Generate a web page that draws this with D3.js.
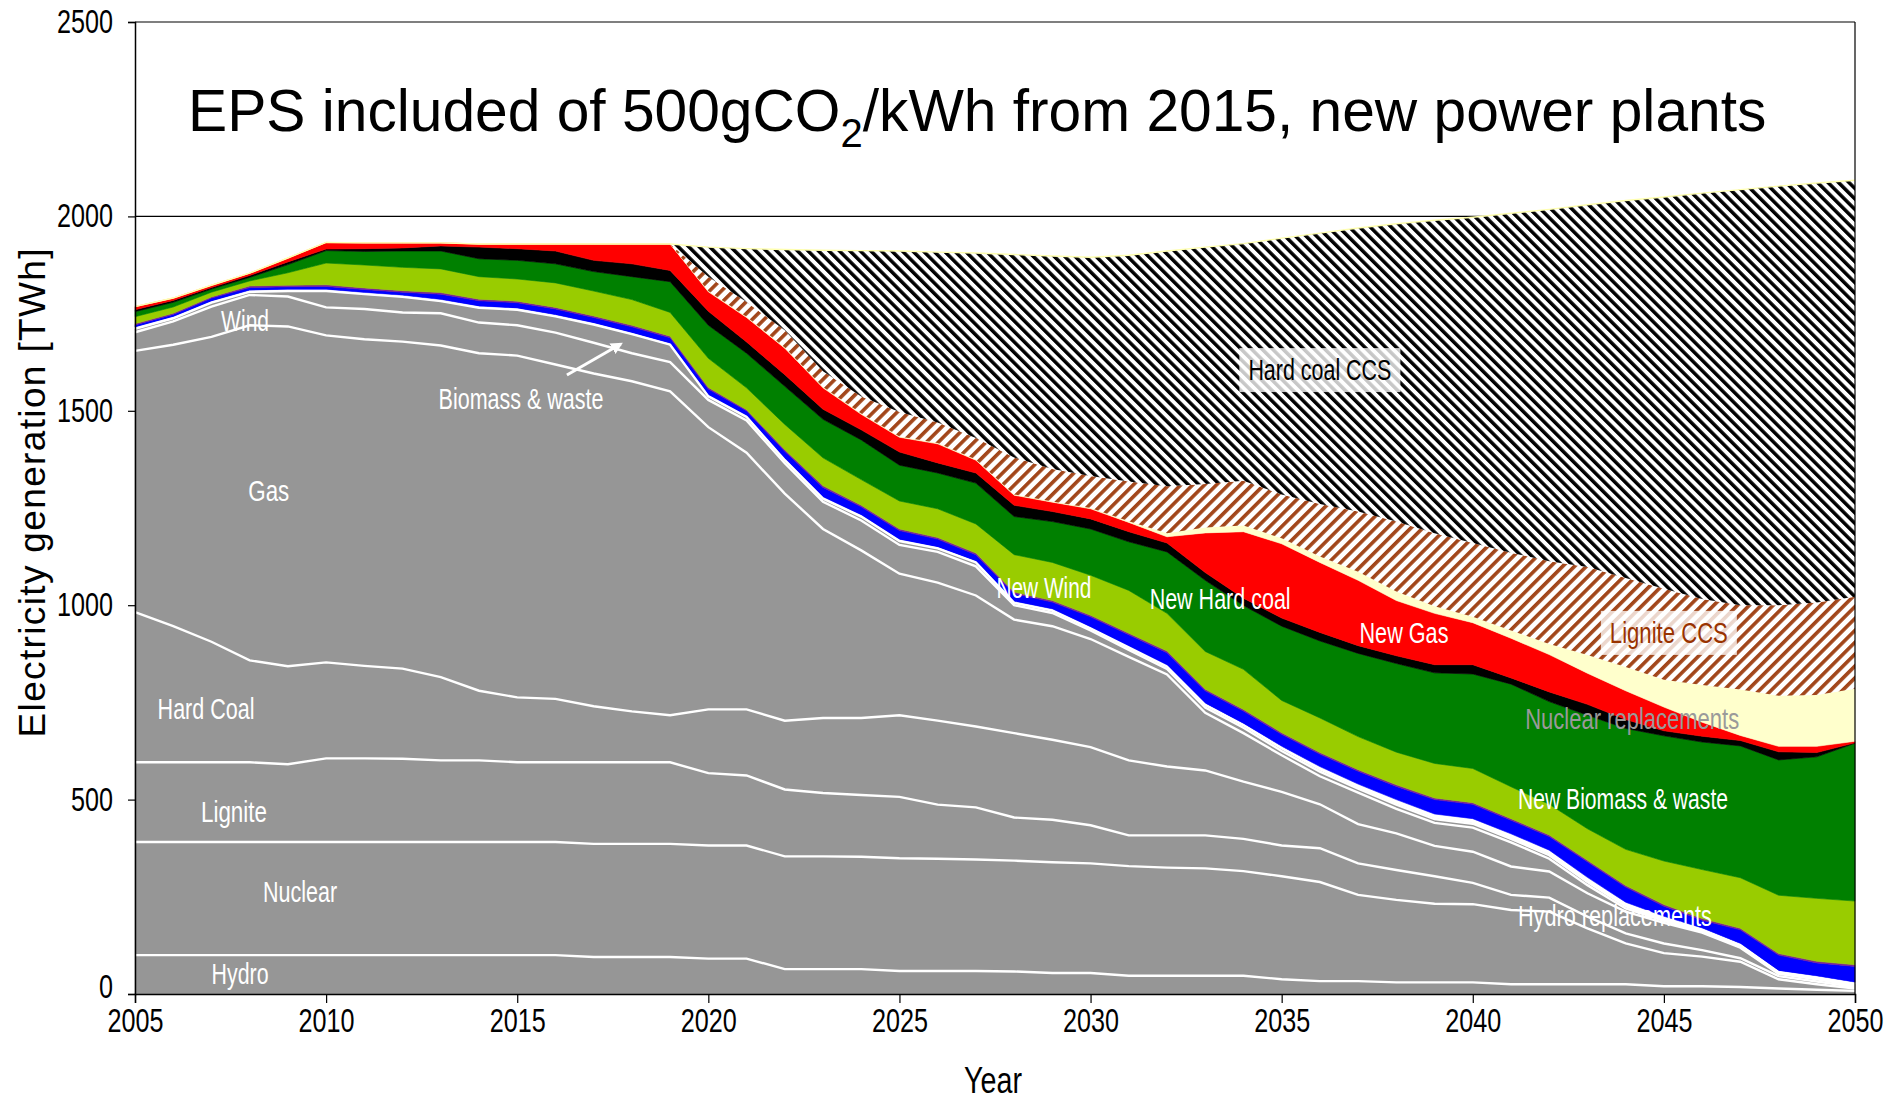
<!DOCTYPE html>
<html>
<head>
<meta charset="utf-8">
<script src="https://cdn.jsdelivr.net/npm/d3@7"></script>
<style>
    body { margin: 0; background: #fff; }
    svg { display: block; }
</style>
</head>
<body>
<svg id="canvas" width="1901" height="1103"></svg>
<script>
"use strict";

// Upper edge of each band, TWh (stacked, bottom to top)
var years = [2005, 2006, 2007, 2008, 2009, 2010, 2011, 2012, 2013, 2014, 2015, 2016, 2017, 2018, 2019,
    2020, 2021, 2022, 2023, 2024, 2025, 2026, 2027, 2028, 2029, 2030, 2031, 2032, 2033, 2034,
    2035, 2036, 2037, 2038, 2039, 2040, 2041, 2042, 2043, 2044, 2045, 2046, 2047, 2048, 2049, 2050];

var hydroTop = [100, 100, 100, 100, 100, 100, 100, 100, 100, 100, 100, 100, 95, 95, 95,
    91, 91, 64, 64, 64, 59, 59, 59, 58, 54, 54, 47, 47, 47, 47,
    38, 33, 33, 30, 30, 30, 25, 25, 25, 25, 20, 20, 18, 14, 11, 8];
var nuclearTop = [391, 391, 391, 391, 391, 391, 391, 391, 391, 391, 391, 391, 386, 386, 386,
    382, 382, 354, 354, 353, 349, 348, 346, 343, 339, 336, 329, 325, 323, 316,
    303, 288, 255, 242, 232, 231, 216, 212, 169, 130, 105, 96, 83, 38, 25, 14];
var ligniteTop = [596, 596, 596, 596, 591, 606, 606, 605, 601, 601, 596, 596, 596, 596, 596,
    568, 562, 526, 517, 512, 507, 487, 480, 454, 448, 434, 408, 408, 408, 399,
    382, 375, 336, 319, 303, 286, 255, 248, 199, 156, 130, 113, 92, 46, 32, 18];
var hardCoalTop = [982, 946, 906, 858, 843, 853, 844, 837, 815, 780, 763, 759, 740, 727, 717,
    732, 732, 703, 710, 710, 717, 703, 688, 671, 654, 635, 601, 585, 575, 546,
    520, 488, 437, 413, 381, 366, 328, 315, 259, 212, 183, 158, 119, 52, 38, 22];
var gasTop = [1654, 1670, 1690, 1720, 1717, 1694, 1684, 1678, 1668, 1648, 1642, 1619, 1596, 1576, 1550,
    1458, 1392, 1287, 1196, 1141, 1081, 1058, 1025, 963, 946, 913, 867, 822, 723, 671,
    614, 560, 518, 476, 440, 428, 390, 348, 280, 220, 188, 160, 121, 54, 40, 24];
var biomassTop = [1702, 1730, 1768, 1798, 1794, 1766, 1762, 1753, 1751, 1727, 1720, 1701, 1675, 1648, 1625,
    1528, 1475, 1365, 1266, 1218, 1155, 1137, 1100, 1000, 980, 935, 885, 836, 737, 685,
    625, 572, 528, 487, 450, 438, 399, 357, 288, 226, 191, 162, 123, 55, 41, 25];
var windTop = [1711, 1738, 1778, 1806, 1808, 1808, 1800, 1793, 1782, 1765, 1760, 1743, 1722, 1697, 1670,
    1537, 1484, 1373, 1274, 1228, 1165, 1146, 1110, 1006, 986, 940, 891, 842, 743, 691,
    632, 578, 533, 492, 455, 443, 404, 362, 292, 230, 194, 164, 125, 56, 42, 26];
var hydroReplTop = [1715, 1742, 1782, 1810, 1812, 1812, 1804, 1797, 1786, 1769, 1764, 1747, 1726, 1701, 1674,
    1541, 1488, 1377, 1278, 1232, 1169, 1150, 1114, 1010, 990, 944, 895, 846, 748, 696,
    637, 585, 540, 500, 463, 451, 412, 370, 300, 236, 200, 170, 130, 60, 46, 30];
var newWindTop = [1721, 1748, 1790, 1817, 1819, 1820, 1812, 1805, 1800, 1783, 1778, 1762, 1740, 1716, 1688,
    1556, 1500, 1396, 1303, 1253, 1192, 1170, 1130, 1030, 1008, 970, 924, 878, 780, 728,
    668, 617, 573, 534, 500, 488, 447, 405, 340, 275, 226, 190, 165, 100, 80, 71];
var newOtherTop = [1724, 1751, 1793, 1821, 1823, 1824, 1816, 1809, 1804, 1787, 1782, 1766, 1744, 1720, 1692,
    1560, 1503, 1400, 1307, 1257, 1196, 1174, 1134, 1034, 1012, 974, 928, 882, 784, 732,
    672, 621, 577, 538, 504, 492, 451, 409, 344, 279, 230, 194, 169, 104, 84, 75];
var newBiomassTop = [1742, 1767, 1805, 1834, 1855, 1880, 1875, 1869, 1865, 1845, 1839, 1829, 1808, 1786, 1753,
    1635, 1559, 1465, 1379, 1323, 1268, 1248, 1209, 1130, 1110, 1077, 1038, 979, 881, 835,
    755, 710, 662, 622, 593, 580, 533, 488, 425, 372, 342, 320, 299, 254, 246, 239];
var newHardCoalTop = [1755, 1779, 1813, 1843, 1876, 1912, 1910, 1911, 1911, 1891, 1887, 1878, 1858, 1845, 1832,
    1720, 1648, 1563, 1478, 1425, 1360, 1340, 1314, 1228, 1215, 1196, 1163, 1137, 1064, 999,
    946, 908, 876, 850, 826, 823, 797, 752, 717, 683, 664, 648, 638, 602, 610, 645];
var newLigniteTop = [1760, 1784, 1817, 1848, 1883, 1916, 1917, 1919, 1924, 1921, 1917, 1911, 1887, 1878, 1861,
    1756, 1677, 1593, 1504, 1451, 1394, 1366, 1340, 1257, 1241, 1222, 1189, 1160, 1084, 1018,
    967, 930, 896, 870, 847, 847, 813, 777, 745, 706, 677, 663, 652, 623, 621, 646];
var newGasTop = [1768, 1790, 1823, 1854, 1893, 1933, 1932, 1932, 1932, 1929, 1929, 1929, 1929, 1929, 1929,
    1806, 1740, 1661, 1559, 1491, 1432, 1415, 1373, 1283, 1265, 1248, 1213, 1176, 1186, 1189,
    1158, 1110, 1064, 1012, 979, 955, 915, 873, 825, 780, 738, 699, 665, 637, 637, 650];
var nuclearReplTop = [1768, 1790, 1823, 1854, 1893, 1933, 1932, 1932, 1932, 1929, 1929, 1929, 1929, 1929, 1929,
    1808, 1742, 1663, 1561, 1493, 1434, 1417, 1375, 1285, 1267, 1250, 1216, 1185, 1200, 1205,
    1172, 1125, 1086, 1035, 997, 970, 935, 900, 872, 841, 808, 795, 783, 767, 769, 785];
var ligniteCcsTop = [1768, 1790, 1823, 1854, 1893, 1933, 1932, 1932, 1932, 1929, 1929, 1929, 1929, 1929, 1929,
    1845, 1780, 1707, 1602, 1537, 1497, 1470, 1430, 1380, 1350, 1332, 1318, 1306, 1312, 1320,
    1285, 1260, 1241, 1215, 1185, 1160, 1135, 1113, 1098, 1070, 1042, 1016, 1000, 1000, 1007, 1022];
var hardCoalCcsTop = [1768, 1790, 1823, 1854, 1893, 1933, 1932, 1932, 1932, 1929, 1929, 1929, 1929, 1929, 1929,
    1921, 1917, 1915, 1913, 1912, 1911, 1908, 1906, 1902, 1898, 1895, 1900, 1911, 1921, 1930,
    1944, 1957, 1970, 1981, 1990, 1998, 2008, 2018, 2030, 2041, 2050, 2060, 2069, 2078, 2086, 2093];

var yTicks = [0, 500, 1000, 1500, 2000, 2500];
var xTicks = [2005, 2010, 2015, 2020, 2025, 2030, 2035, 2040, 2045, 2050];

var NARROW = "'Liberation Sans Narrow','Arial Narrow','Liberation Sans',Arial,sans-serif";
var REGULAR = "'Liberation Sans',Arial,sans-serif";
var GREY = "#969696";

var svg = d3.select("#canvas");
var x = d3.scaleLinear().domain([2005, 2050]).range([135, 1855]);
var y = d3.scaleLinear().domain([0, 2500]).range([994, 22]);

// Hatch patterns for the CCS bands
var defs = svg.append("defs");
function hatch(id, size, stripe, color, angle) {
    var p = defs.append("pattern")
        .attr("id", id)
        .attr("patternUnits", "userSpaceOnUse")
        .attr("width", size)
        .attr("height", size)
        .attr("patternTransform", "rotate(" + angle + ")");
    p.append("rect").attr("width", size).attr("height", size).attr("fill", "#fff");
    p.append("rect").attr("width", stripe).attr("height", size).attr("fill", color);
}
hatch("hatchCoal", 7.4, 3.5, "#000", -45);
hatch("hatchLignite", 8.4, 3.6, "#a2461a", 45);

// Gridline at 2000
svg.append("line")
    .attr("x1", x(2005)).attr("x2", x(2050))
    .attr("y1", y(2000)).attr("y2", y(2000))
    .attr("stroke", "#000").attr("stroke-width", 1.2);

var layers = [
    { name: "Hydro", top: hydroTop, fill: GREY, grey: true },
    { name: "Nuclear", top: nuclearTop, fill: GREY, grey: true },
    { name: "Lignite", top: ligniteTop, fill: GREY, grey: true },
    { name: "Hard Coal", top: hardCoalTop, fill: GREY, grey: true },
    { name: "Gas", top: gasTop, fill: GREY, grey: true },
    { name: "Biomass & waste", top: biomassTop, fill: GREY, grey: true },
    { name: "Wind", top: windTop, fill: GREY, grey: true },
    { name: "Hydro replacements", top: hydroReplTop, fill: "#ffffff" },
    { name: "New Wind", top: newWindTop, fill: "#0000ff" },
    { name: "New other", top: newOtherTop, fill: "#7a1f9a" },
    { name: "New Biomass & waste", top: newBiomassTop, fill: "#99cc00" },
    { name: "New Hard coal", top: newHardCoalTop, fill: "#008000" },
    { name: "New Lignite", top: newLigniteTop, fill: "#000000" },
    { name: "New Gas", top: newGasTop, fill: "#ff0000" },
    { name: "Nuclear replacements", top: nuclearReplTop, fill: "#ffffcc" },
    { name: "Lignite CCS", top: ligniteCcsTop, fill: "url(#hatchLignite)", hatched: true },
    { name: "Hard coal CCS", top: hardCoalCcsTop, fill: "url(#hatchCoal)", hatched: true }
];

var band = d3.area()
    .x(function(d) { return x(d.year); })
    .y0(function(d) { return y(d.lo); })
    .y1(function(d) { return y(d.hi); });

layers.forEach(function(layer, li) {
    var below = li === 0 ? null : layers[li - 1].top;
    var rows = years.map(function(yr, i) {
        return { year: yr, lo: below ? below[i] : 0, hi: layer.top[i] };
    });
    svg.append("path")
        .datum(rows)
        .attr("d", band)
        .attr("fill", layer.fill)
        .attr("stroke", layer.hatched ? "none" : layer.fill)
        .attr("stroke-width", 0.6);
});

// White separators between the existing (grey) plants
var edge = d3.line()
    .x(function(d) { return x(d.year); })
    .y(function(d) { return y(d.v); });
layers.filter(function(l) { return l.grey; }).forEach(function(layer) {
    svg.append("path")
        .datum(years.map(function(yr, i) { return { year: yr, v: layer.top[i] }; }))
        .attr("d", edge)
        .attr("fill", "none")
        .attr("stroke", "#fff")
        .attr("stroke-width", 2.4);
});
// pale edge along the top of the stack
svg.append("path")
    .datum(years.map(function(yr, i) { return { year: yr, v: hardCoalCcsTop[i] }; }))
    .attr("d", edge)
    .attr("fill", "none")
    .attr("stroke", "#ffffb0")
    .attr("stroke-width", 1.4);

// Frame
svg.append("line")
    .attr("x1", x(2005)).attr("x2", x(2050))
    .attr("y1", y(2500)).attr("y2", y(2500))
    .attr("stroke", "#000").attr("stroke-width", 1.2);
svg.append("line")
    .attr("x1", x(2050)).attr("x2", x(2050))
    .attr("y1", y(2500)).attr("y2", y(0))
    .attr("stroke", "#000").attr("stroke-width", 1.2);

// Axes
var yAxis = svg.append("g")
    .attr("transform", "translate(" + x(2005) + ",0)")
    .call(d3.axisLeft(y).tickValues(yTicks).tickSize(7).tickPadding(15).tickFormat(d3.format("d")));
var xAxis = svg.append("g")
    .attr("transform", "translate(0," + y(0) + ")")
    .call(d3.axisBottom(x).tickValues(xTicks).tickSize(9).tickPadding(6).tickFormat(d3.format("d")));
[yAxis, xAxis].forEach(function(g) {
    g.select(".domain").attr("stroke", "#000").attr("stroke-width", 1.5);
    g.selectAll(".tick line").attr("stroke", "#000").attr("stroke-width", 1.2);
    g.selectAll(".tick text")
        .attr("fill", "#000")
        .style("font-family", NARROW)
        .style("font-size", "33px")
        .attr("textLength", function(d) { return String(d).length * 14; })
        .attr("lengthAdjust", "spacingAndGlyphs");
});
// the lowest y label sits just above the first x label
yAxis.selectAll(".tick text").filter(function(d) { return d === 0; }).attr("dy", "0.12em");

// Axis titles
svg.append("text")
    .attr("x", 993).attr("y", 1093)
    .attr("text-anchor", "middle")
    .style("font-family", NARROW)
    .style("font-size", "36px")
    .attr("textLength", 58)
    .attr("lengthAdjust", "spacingAndGlyphs")
    .text("Year");
svg.append("text")
    .attr("transform", "translate(45,493) rotate(-90)")
    .attr("text-anchor", "middle")
    .style("font-family", REGULAR)
    .style("font-size", "37px")
    .attr("textLength", 489)
    .attr("lengthAdjust", "spacing")
    .text("Electricity generation [TWh]");

// Title
var title = svg.append("text")
    .attr("x", 188).attr("y", 131)
    .style("font-family", REGULAR)
    .style("font-size", "58.7px");
title.append("tspan").text("EPS included of 500gCO");
title.append("tspan").attr("dy", 16).style("font-size", "40px").text("2");
title.append("tspan").attr("dy", -16).text("/kWh from 2015, new power plants");

// Band labels, anchored in data units
var labels = [
    { text: "Hard coal CCS", year: 2036.0, v: 1579, w: 143, color: "#000", box: true },
    { text: "Lignite CCS", year: 2045.13, v: 903, w: 118, color: "#993300", box: true },
    { text: "New Gas", year: 2038.2, v: 903, w: 89, color: "#fff" },
    { text: "New Hard coal", year: 2033.39, v: 990, w: 141, color: "#fff" },
    { text: "New Wind", year: 2028.78, v: 1018, w: 95, color: "#fff" },
    { text: "Nuclear replacements", year: 2044.17, v: 682, w: 214, color: "#9a9a9a" },
    { text: "New Biomass & waste", year: 2043.93, v: 476, w: 210, color: "#fff" },
    { text: "Hydro replacements", year: 2043.72, v: 175, w: 194, color: "#fff" },
    { text: "Wind", year: 2007.88, v: 1705, w: 48, color: "#fff" },
    { text: "Biomass & waste", year: 2015.1, v: 1505, w: 165, color: "#fff" },
    { text: "Gas", year: 2008.5, v: 1268, w: 41, color: "#fff" },
    { text: "Hard Coal", year: 2006.86, v: 707, w: 97, color: "#fff" },
    { text: "Lignite", year: 2007.59, v: 442, w: 66, color: "#fff" },
    { text: "Nuclear", year: 2009.32, v: 237, w: 74, color: "#fff" },
    { text: "Hydro", year: 2007.75, v: 26, w: 57, color: "#fff" }
];

labels.filter(function(d) { return d.box; }).forEach(function(d) {
    svg.append("rect")
        .attr("x", x(d.year) - d.w / 2 - 9)
        .attr("y", y(d.v) - 32)
        .attr("width", d.w + 18)
        .attr("height", 44)
        .attr("fill", "#fff")
        .attr("opacity", 0.78);
});

svg.selectAll("text.band-label")
    .data(labels)
    .enter()
    .append("text")
    .attr("class", "band-label")
    .attr("x", function(d) { return x(d.year); })
    .attr("y", function(d) { return y(d.v); })
    .attr("text-anchor", "middle")
    .attr("fill", function(d) { return d.color; })
    .style("font-family", NARROW)
    .style("font-size", "30px")
    .attr("textLength", function(d) { return d.w; })
    .attr("lengthAdjust", "spacingAndGlyphs")
    .text(function(d) { return d.text; });

// Arrow pointing at the existing biomass band
defs.append("marker")
    .attr("id", "arrowHead")
    .attr("viewBox", "0 0 10 10")
    .attr("refX", 8).attr("refY", 5)
    .attr("markerWidth", 4).attr("markerHeight", 4)
    .attr("orient", "auto")
    .append("path")
    .attr("d", "M0,0 L10,5 L0,10 Z")
    .attr("fill", "#fff");
svg.append("line")
    .attr("x1", x(2016.3)).attr("y1", y(1592))
    .attr("x2", x(2017.71)).attr("y2", y(1672))
    .attr("stroke", "#fff")
    .attr("stroke-width", 3)
    .attr("marker-end", "url(#arrowHead)");
</script>
</body>
</html>
